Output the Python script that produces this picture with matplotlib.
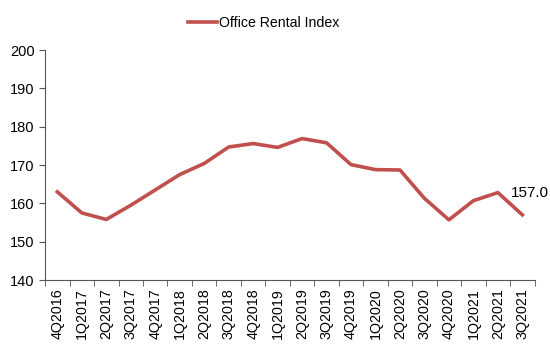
import matplotlib
matplotlib.use('Agg')
import matplotlib.pyplot as plt
from matplotlib.ticker import MultipleLocator

quarters = ['4Q2016', '1Q2017', '2Q2017', '3Q2017', '4Q2017',
            '1Q2018', '2Q2018', '3Q2018', '4Q2018', '1Q2019',
            '2Q2019', '3Q2019', '4Q2019', '1Q2020', '2Q2020',
            '3Q2020', '4Q2020', '1Q2021', '2Q2021', '3Q2021']
rental_index = [163.0, 157.5, 155.8, 159.5, 163.5,
                167.5, 170.4, 174.7, 175.6, 174.6,
                176.9, 175.8, 170.1, 168.8, 168.7,
                161.3, 155.7, 160.7, 162.8, 157.0]

plt.rcParams['font.family'] = ['Liberation Sans', 'DejaVu Sans']

fig = plt.figure(figsize=(5.5, 3.5), dpi=100)
ax = fig.add_axes([0.082, 0.2, 0.89, 0.657])

x = list(range(len(quarters)))
ax.plot(x, rental_index, color='#C0504D', lw=2.6, label='Office Rental Index')
ax.annotate(f'{rental_index[-1]:.1f}', (x[-1], rental_index[-1]),
            xytext=(-8, 16), textcoords='offset points', fontsize=11,
            ha='left', va='center')

ax.set_ylim(140, 200)
ax.yaxis.set_major_locator(MultipleLocator(10))
ax.set_xlim(-0.5, len(quarters) - 0.5)
ax.set_xticks(x)
ax.set_xticklabels(quarters, rotation=90, fontsize=10.3)
ax.set_xticks([i - 0.5 for i in range(len(quarters) + 1)], minor=True)
ax.tick_params(axis='x', which='major', length=0, pad=6)
ax.tick_params(axis='x', which='minor', length=4, direction='out', color='#555555')
ax.tick_params(axis='y', labelsize=10.5, length=4, color='#555555')

for s in ['top', 'right']:
    ax.spines[s].set_visible(False)
for s in ['left', 'bottom']:
    ax.spines[s].set_color('#555555')
    ax.spines[s].set_linewidth(0.8)

fig.legend(loc='upper center', bbox_to_anchor=(0.48, 0.99), frameon=False,
           fontsize=10.2, handlelength=2.0, handletextpad=0.2)

fig.savefig('out.png', dpi=100)
